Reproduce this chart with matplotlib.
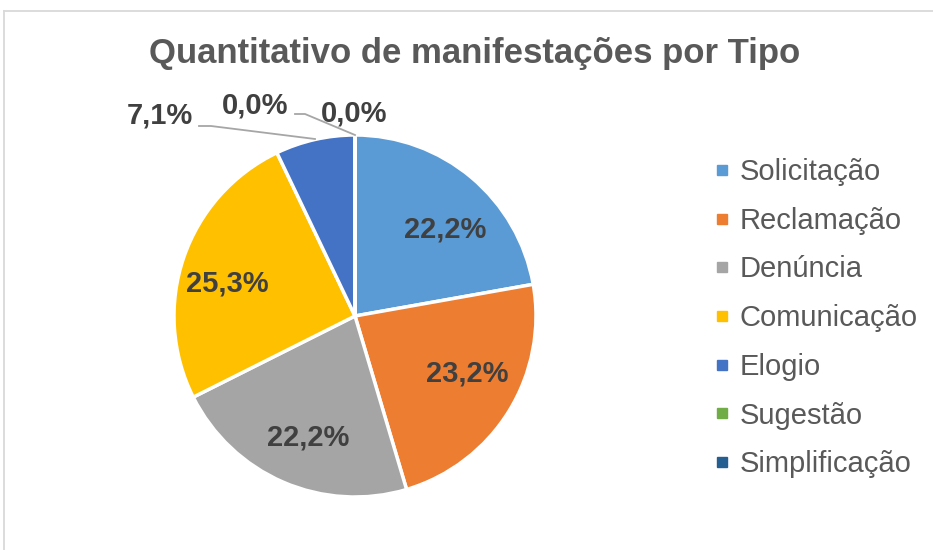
import matplotlib
matplotlib.use("Agg")
import matplotlib.pyplot as plt
from matplotlib.lines import Line2D

plt.rcParams['font.family'] = ['Liberation Sans', 'DejaVu Sans']

# Dados
tipos = ['Solicitação', 'Reclamação', 'Denúncia', 'Comunicação', 'Elogio', 'Sugestão', 'Simplificação']
percentuais = [22.2, 23.2, 22.2, 25.3, 7.1, 0.0, 0.0]
cores = ['#5B9BD5', '#ED7D31', '#A5A5A5', '#FFC000', '#4472C4', '#70AD47', '#255E91']
titulo = 'Quantitativo de manifestações por Tipo'

W, H = 933, 550
cx, cy, R = 355, 316, 181  # centro e raio da pizza em pixels


def px(x, y):
    # pixel (origem no topo) -> coordenadas de dados
    return ((x - cx) / R, (cy - y) / R)


fig = plt.figure(figsize=(W / 100, H / 100), dpi=100)
ax = fig.add_axes([0, 0, 1, 1])

wedges, _ = ax.pie(percentuais, colors=cores, startangle=90, counterclock=False,
                   radius=1, wedgeprops=dict(edgecolor='white', linewidth=2.5))
ax.set_xlim(-cx / R, (W - cx) / R)
ax.set_ylim(-(H - cy) / R, cy / R)
ax.set_aspect('equal')
ax.axis('off')

fmt = lambda v: f'{v:.1f}%'.replace('.', ',')
lbl = dict(fontsize=21, fontweight='bold', color='#404040', ha='center', va='center')

# rótulos dentro das fatias
pos_dentro = [(445, 230), (467, 373), (308, 437), (227, 283)]
for v, (x, y) in zip(percentuais[:4], pos_dentro):
    ax.text(*px(x, y), fmt(v), **lbl)

# rótulos fora com linhas de chamada
pos_fora = [(160, 116), (255, 106), (354, 113)]
for v, (x, y) in zip(percentuais[4:], pos_fora):
    ax.text(*px(x, y), fmt(v), **lbl)

linha = dict(color='#A6A6A6', linewidth=1.3)
xs, ys = zip(px(199, 126), px(211, 126), px(315, 139))
ax.plot(xs, ys, **linha)
xs, ys = zip(px(295, 114), px(305, 114), px(355, 135))
ax.plot(xs, ys, **linha)

# título
fig.text(475 / W, 1 - 53 / H, titulo, fontsize=25, fontweight='bold',
         color='#595959', ha='center', va='center')

# legenda
handles = [Line2D([], [], marker='s', linestyle='none', markersize=7.5,
                  markerfacecolor=c, markeredgecolor=c) for c in cores]
leg = fig.legend(handles, tipos, loc='upper left', bbox_to_anchor=(713 / W, 1 - 158 / H),
                 frameon=False, fontsize=21, labelcolor='#595959', handlelength=0.6,
                 handletextpad=0.3, labelspacing=0.71, borderpad=0, borderaxespad=0)

# moldura
fig.add_artist(Line2D([4 / W, 4 / W], [0, 1 - 11 / H], color='#D9D9D9', linewidth=1.3))
fig.add_artist(Line2D([4 / W, 1], [1 - 11 / H, 1 - 11 / H], color='#D9D9D9', linewidth=1.3))

fig.savefig('out.png', dpi=100)
